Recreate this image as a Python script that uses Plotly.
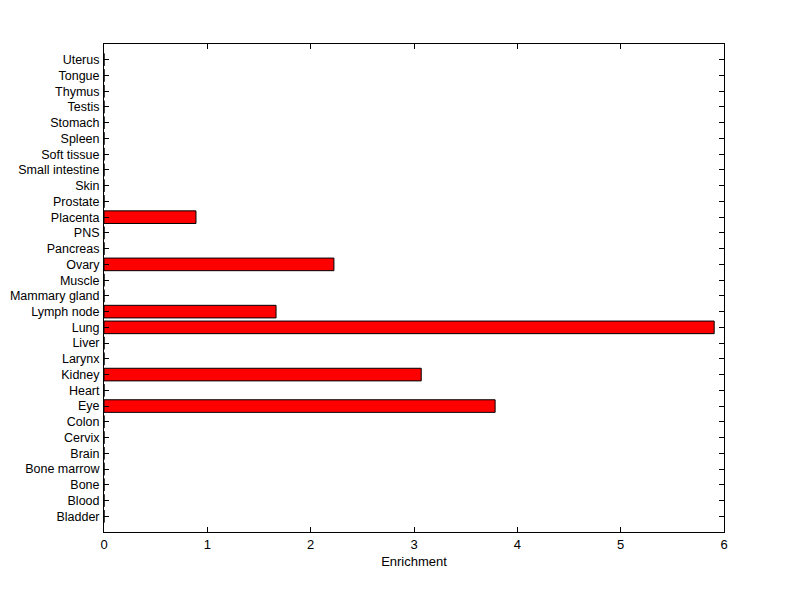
import plotly.graph_objects as go

tissues = ["Bladder", "Blood", "Bone", "Bone marrow", "Brain", "Cervix", "Colon", "Eye",
           "Heart", "Kidney", "Larynx", "Liver", "Lung", "Lymph node", "Mammary gland",
           "Muscle", "Ovary", "Pancreas", "PNS", "Placenta", "Prostate", "Skin",
           "Small intestine", "Soft tissue", "Spleen", "Stomach", "Testis", "Thymus",
           "Tongue", "Uterus"]
enrichment = [0, 0, 0, 0, 0, 0, 0, 3.785,
              0, 3.07, 0, 0, 5.905, 1.665, 0,
              0, 2.225, 0, 0, 0.89, 0, 0,
              0, 0, 0, 0, 0, 0,
              0, 0]
x_ticks = [0, 1, 2, 3, 4, 5, 6]

FONT = "Liberation Sans, Arial"

fig = go.Figure(go.Bar(
    x=enrichment, y=list(range(len(tissues))), orientation="h",
    width=0.8, marker=dict(color="#ff0000", line=dict(color="black", width=1)),
))

axis_common = dict(showline=True, linecolor="black", linewidth=1, mirror="allticks",
                   ticks="inside", ticklen=5, tickcolor="black", showgrid=False,
                   zeroline=False, automargin=False)

fig.update_layout(
    width=800, height=599,
    margin=dict(l=96, r=84, t=36, b=75),
    paper_bgcolor="white", plot_bgcolor="white",
    showlegend=False,
    xaxis=dict(range=[0, 6], tickvals=x_ticks, **axis_common,
               tickfont=dict(family=FONT, size=13, color="black"),
               title=dict(text="Enrichment", font=dict(family=FONT, size=13, color="black"), standoff=6)),
    yaxis=dict(range=[-1, 30], tickvals=list(range(len(tissues))), ticktext=tissues,
               ticklabelstandoff=1, tickfont=dict(family=FONT, size=12.5, color="black"),
               **axis_common),
)
fig.write_html("out.html")
